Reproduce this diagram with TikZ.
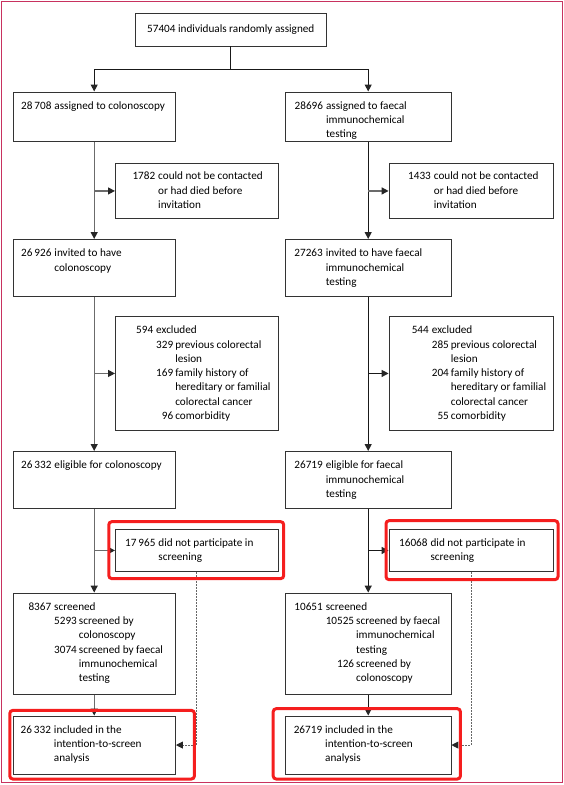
\documentclass[tikz,border=0pt]{standalone}
\usepackage{fontspec}
\setmainfont{Carlito}
\usetikzlibrary{arrows.meta,calc}
\definecolor{hlred}{RGB}{245,30,30}
\definecolor{framecol}{RGB}{200,50,95}
\begin{document}
\begin{tikzpicture}[x=1pt,y=-1pt,
  box/.style={draw=black!80, line width=0.9pt, inner sep=0pt, anchor=north west, rectangle},
  cbox/.style={draw=black!80, line width=0.9pt, inner sep=0pt, rectangle, text=black, font=\fontsize{11.2}{14.3}\selectfont},
  txt/.style={inner sep=0pt, anchor=north west, text=black, font=\fontsize{11.2}{14.3}\selectfont},
  conn/.style={line width=1.2pt, draw=black!90},
  gconn/.style={line width=1.3pt, draw=black!58},
  arr/.style={-{Triangle[length=7pt,width=7pt,color=black!85]}},
  dotconn/.style={line width=0.9pt, draw=black!60, dash pattern=on 1.5pt off 1.5pt},
  hl/.style={draw=hlred, line width=3pt, rounded corners=3pt}
]
\useasboundingbox (0,0) rectangle (564,785);
\draw[framecol, line width=1.1pt] (1.6,1.6) rectangle (562.2,782.6);

% top
\node[cbox, minimum width=190.4, minimum height=32.3] (top) at (230.8,29.8) {57404 individuals randomly assigned};

% left column
\node[box, minimum width=162.5, minimum height=49.5] (A1) at (12.5,91.5) {};
\node[box, minimum width=162.7, minimum height=55.6] (A2) at (115,162.7) {};
\node[box, minimum width=162.5, minimum height=57] (A3) at (12.5,239) {};
\node[box, minimum width=162.7, minimum height=114] (A4) at (115,316) {};
\node[box, minimum width=162.5, minimum height=57] (A5) at (12.5,451) {};
\node[box, minimum width=162.7, minimum height=42.8] (A6) at (115,528.6) {};
\node[box, minimum width=162.5, minimum height=101.8] (A7) at (12.5,592.6) {};
\node[box, minimum width=162.5, minimum height=58] (A8) at (12.5,715.6) {};

% right column
\node[box, minimum width=165.5, minimum height=49.5] (B1) at (285,91.5) {};
\node[box, minimum width=164.3, minimum height=55.6] (B2) at (388.6,162.7) {};
\node[box, minimum width=165.5, minimum height=57] (B3) at (285,239) {};
\node[box, minimum width=164.3, minimum height=114] (B4) at (388.6,316) {};
\node[box, minimum width=165.5, minimum height=57] (B5) at (285,451) {};
\node[box, minimum width=164.3, minimum height=42.8] (B6) at (388.6,528.6) {};
\node[box, minimum width=165.5, minimum height=101.8] (B7) at (285,592.6) {};
\node[box, minimum width=165.5, minimum height=58] (B8) at (285,715.6) {};

% connectors from top
\coordinate (split) at ($(top.south)+(0,22.7)$);
\draw[conn] (top.south) -- (split);
\draw[conn,arr] (split) -| (A1.north);
\draw[conn,arr] (split) -| (B1.north);

% left column connectors
\draw[gconn,arr] (A1.south) -- (A3.north);
\draw[gconn,arr] (A1.south |- A2.west) -- (A2.west);
\draw[gconn,arr] (A3.south) -- (A5.north);
\draw[gconn,arr] (A3.south |- A4.west) -- (A4.west);
\draw[gconn,arr] (A5.south) -- (A7.north);
\draw[gconn,arr] (A5.south |- A6.west) -- (A6.west);
\draw[gconn,arr] (A7.south) -- (A8.north);
\draw[dotconn,arr] (A6.south) |- (A8.east);

% right column connectors
\draw[conn,arr] (B1.south) -- (B3.north);
\draw[gconn,arr] (B1.south |- B2.west) -- (B2.west);
\draw[conn,arr] (B3.south) -- (B5.north);
\draw[conn,arr] (B3.south |- B4.west) -- (B4.west);
\draw[conn,arr] (B5.south) -- (B7.north);
\draw[conn,arr] (B5.south |- B6.west) -- (B6.west);
\draw[conn,arr] (B7.south) -- (B8.north);
\draw[dotconn,arr] (B6.south) |- (B8.east);

% texts left
\node[txt] (A1t) at ($(A1.north west)+(8.5,7.5)$) {\begin{tabular}[t]{@{}l@{\hspace{3pt}}l@{}}28\,708 & assigned to colonoscopy\end{tabular}};
\node[txt] (A2t) at ($(A2.north west)+(17.3,7)$) {\begin{tabular}[t]{@{}l@{\hspace{3pt}}l@{}}1782 & could not be contacted\\ & or had died before\\ & invitation\end{tabular}};
\node[txt] (A3t) at ($(A3.north west)+(8.5,7.5)$) {\begin{tabular}[t]{@{}l@{\hspace{3pt}}l@{}}26\,926 & invited to have\\ & colonoscopy\end{tabular}};
\node[txt] (A4t) at ($(A4.north west)+(21,7.5)$) {\begin{tabular}[t]{@{}l@{\hspace{3pt}}l@{}}594 & excluded\\
 & \begin{tabular}[t]{@{}r@{\hspace{2pt}}l@{}}329 & previous colorectal\\ & lesion\\ 169 & family history of\\ & hereditary or familial\\ & colorectal cancer\\ 96 & comorbidity\end{tabular}\end{tabular}};
\node[txt] (A5t) at ($(A5.north west)+(8.5,7.5)$) {\begin{tabular}[t]{@{}l@{\hspace{3pt}}l@{}}26\,332 & eligible for colonoscopy\end{tabular}};
\node[txt] (A6t) at ($(A6.north west)+(10,7.5)$) {\begin{tabular}[t]{@{}l@{\hspace{3pt}}l@{}}17\,965 & did not participate in\\ & screening\end{tabular}};
\node[txt] (A7t) at ($(A7.north west)+(15.8,7.5)$) {\begin{tabular}[t]{@{}l@{\hspace{3pt}}l@{}}8367 & screened\\
 & \begin{tabular}[t]{@{}r@{\hspace{2pt}}l@{}}5293 & screened by\\ & colonoscopy\\ 3074 & screened by faecal\\ & immunochemical\\ & testing\end{tabular}\end{tabular}};
\node[txt] (A8t) at ($(A8.north west)+(8,7.5)$) {\begin{tabular}[t]{@{}l@{\hspace{3pt}}l@{}}26\,332 & included in the\\ & intention-to-screen\\ & analysis\end{tabular}};

% texts right
\node[txt] (B1t) at ($(B1.north west)+(9.5,7.5)$) {\begin{tabular}[t]{@{}l@{\hspace{3pt}}l@{}}28696 & assigned to faecal\\ & immunochemical\\ & testing\end{tabular}};
\node[txt] (B2t) at ($(B2.north west)+(19.4,7)$) {\begin{tabular}[t]{@{}l@{\hspace{3pt}}l@{}}1433 & could not be contacted\\ & or had died before\\ & invitation\end{tabular}};
\node[txt] (B3t) at ($(B3.north west)+(9.2,7.5)$) {\begin{tabular}[t]{@{}l@{\hspace{3pt}}l@{}}27263 & invited to have faecal\\ & immunochemical\\ & testing\end{tabular}};
\node[txt] (B4t) at ($(B4.north west)+(23,7.5)$) {\begin{tabular}[t]{@{}l@{\hspace{3pt}}l@{}}544 & excluded\\
 & \begin{tabular}[t]{@{}r@{\hspace{2pt}}l@{}}285 & previous colorectal\\ & lesion\\ 204 & family history of\\ & hereditary or familial\\ & colorectal cancer\\ 55 & comorbidity\end{tabular}\end{tabular}};
\node[txt] (B5t) at ($(B5.north west)+(9.2,7.5)$) {\begin{tabular}[t]{@{}l@{\hspace{3pt}}l@{}}26719 & eligible for faecal\\ & immunochemical\\ & testing\end{tabular}};
\node[txt] (B6t) at ($(B6.north west)+(10.4,7.5)$) {\begin{tabular}[t]{@{}l@{\hspace{3pt}}l@{}}16068 & did not participate in\\ & screening\end{tabular}};
\node[txt] (B7t) at ($(B7.north west)+(9.2,7.5)$) {\begin{tabular}[t]{@{}l@{\hspace{3pt}}l@{}}10651 & screened\\
 & \begin{tabular}[t]{@{}r@{\hspace{2pt}}l@{}}10525 & screened by faecal\\ & immunochemical\\ & testing\\ 126 & screened by\\ & colonoscopy\end{tabular}\end{tabular}};
\node[txt] (B8t) at ($(B8.north west)+(8.6,7.5)$) {\begin{tabular}[t]{@{}l@{\hspace{3pt}}l@{}}26719 & included in the\\ & intention-to-screen\\ & analysis\end{tabular}};

% red highlights
\draw[hl] ($(A6.north west)+(-6.2,-6.9)$) rectangle ($(A6.south east)+(5.1,6.3)$);
\draw[hl] ($(A8.north west)+(-2.7,-5.2)$) rectangle ($(A8.south east)+(18.5,4.5)$);
\draw[hl] ($(B6.north west)+(-2.6,-7.9)$) rectangle ($(B6.south east)+(4.2,7.3)$);
\draw[hl] ($(B8.north west)+(-11.8,-6.9)$) rectangle ($(B8.south east)+(9,4.5)$);
\end{tikzpicture}
\end{document}
